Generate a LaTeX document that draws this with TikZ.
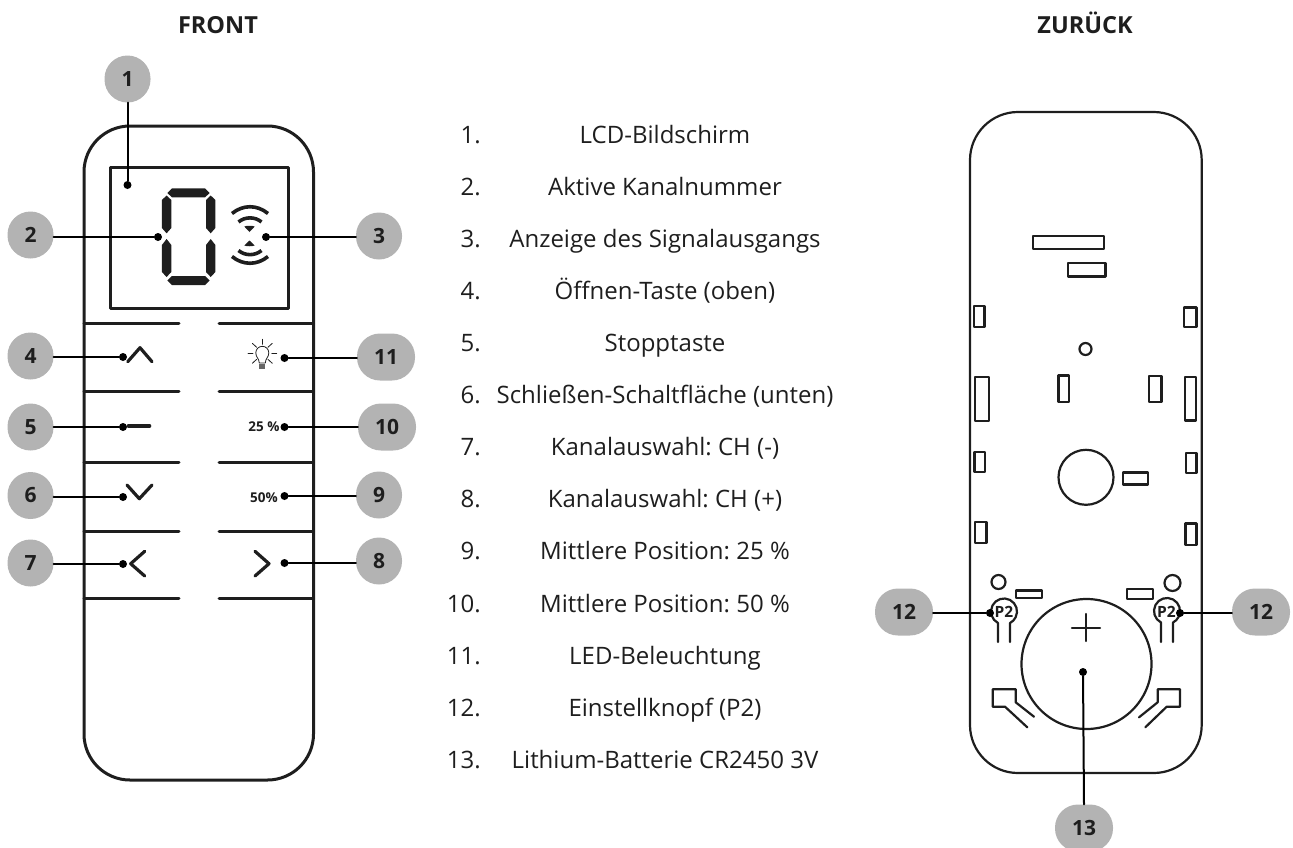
\documentclass[tikz,border=0pt]{standalone}
\usepackage{fontspec}
\setmainfont{Open Sans}
\frenchspacing
\definecolor{bubblegray}{RGB}{179,179,179}
\definecolor{inkgray}{RGB}{30,30,30}
\tikzset{
  bubble/.style={rectangle,fill=bubblegray,rounded corners=23pt,minimum width=46pt,minimum height=47pt,inner sep=0pt,font=\fontsize{21}{23}\bfseries,text=inkgray},
  bubblewide/.style={bubble,minimum width=58pt},
  dot/.style={circle,fill=black,inner sep=0pt,minimum size=8pt},
  lead/.style={line width=2pt,black},
  front/.style={line width=3pt,inkgray},
  back/.style={line width=2.2pt,inkgray},
  icon/.style={line width=3.2pt,inkgray},
  heading/.style={font=\fontsize{23.5}{26}\bfseries,text=inkgray,anchor=base},
  entry/.style={font=\fontsize{24}{26}\selectfont,text=inkgray,anchor=base,inner sep=0pt},
  small/.style={font=\fontsize{13.5}{15}\bfseries,text=inkgray,inner sep=0pt},
  ptwo/.style={small,font=\fontsize{15.5}{17}\bfseries}
}
\begin{document}
\begin{tikzpicture}[x=1pt,y=-1pt,line join=round,line cap=round]
\useasboundingbox (0,0) rectangle (1293,847);
\node[heading] (headfront) at (218,33) {FRONT};
\node[heading] (headback) at (1085,33) {ZURÜCK};
\draw[front,rounded corners=46pt] (84,126) rectangle (313.5,780);
\draw[front] (110,167) rectangle (288,308);
\foreach \y in {323,391,462,531,598.5}{
  \draw[front] (84,\y)--(179,\y);
  \draw[front] (219,\y)--(313.5,\y);
}
\fill[inkgray] (167.3,193)--(172,188.3)--(205,188.3)--(209.7,193)--(205,197.3)--(172,197.3)--cycle;
\fill[inkgray] (167.3,280.5)--(172,276)--(205,276)--(209.7,280.5)--(205,285)--(172,285)--cycle;
\foreach \x in {166.6,210.7}{
  \fill[inkgray] (\x,195.5)--(\x-4.7,200)--(\x-4.7,228)--(\x,233.3)--(\x+4.7,228)--(\x+4.7,200)--cycle;
  \fill[inkgray] (\x,239)--(\x-4.7,245)--(\x-4.7,272)--(\x,277)--(\x+4.7,272)--(\x+4.7,245)--cycle;
}
\draw[line width=3.6pt,inkgray,line cap=butt] (232,213.5) .. controls (243,204.5) and (257,204.5) .. (268,213.5);
\draw[line width=3.6pt,inkgray,line cap=butt] (238.5,222) .. controls (245,216.5) and (255,216.5) .. (261.5,222);
\fill[inkgray] (244.3,226.5) .. controls (247,225.5) and (252,225.5) .. (254.7,226.5)--(249.5,232)--cycle;
\draw[line width=3.6pt,inkgray,line cap=butt] (232,256.5) .. controls (243,265.5) and (257,265.5) .. (268,256.5);
\draw[line width=3.6pt,inkgray,line cap=butt] (238.5,250.5) .. controls (245,256) and (255,256) .. (261.5,250.5);
\fill[inkgray] (244.3,245.5) .. controls (247,246.5) and (252,246.5) .. (254.7,245.5)--(249.5,240.5)--cycle;
\draw[icon] (127.7,361.7)--(140,347.7)--(152,361.7);
\draw[icon,line width=3.6pt] (128.5,426)--(149.5,426);
\draw[icon] (127,485)--(139.3,498.7)--(152,485);
\draw[icon] (144.7,551.3)--(130.7,563.7)--(144.7,576);
\draw[icon] (255,551.3)--(269,563.7)--(255,576);
\draw[line width=0.8pt,inkgray] (259.3,363) .. controls (259,358) and (255.8,357.5) .. (255.8,352.8) arc[start angle=180,end angle=360,radius=6.5] .. controls (268.8,357.5) and (265.5,358) .. (265.3,363)--cycle;
\fill[gray!80!black] (259.3,363.5) rectangle (265.3,369);
\foreach \xa/\ya/\xb/\yb in {262.3/339.3/262.3/344.3,248/353.3/253/353.3,271.7/353.3/276.7/353.3,252.3/343.3/256.7/347.3,272.3/343.3/267.9/347.3,252.3/363.3/256.7/359.3,272.3/363.3/267.9/359.3}{
  \draw[line width=0.8pt,inkgray] (\xa,\ya)--(\xb,\yb);
}
\node[small] (labelfive) at (264,426.7) {25 \%};
\node[small] (labelsix) at (264,497.3) {50\%};
\foreach \nr/\txt in {1/LCD-Bildschirm,2/Aktive Kanalnummer,3/Anzeige des Signalausgangs,4/Öffnen-Taste (oben),5/Stopptaste,6/Schließen-Schaltfläche (unten),7/Kanalauswahl: CH (-),8/Kanalauswahl: CH (+),9/Mittlere Position: 25 \%,10/Mittlere Position: 50 \%,11/LED-Beleuchtung,12/Einstellknopf (P2),13/Lithium-Batterie CR2450 3V}{
  \node[entry,anchor=base east] (nr\nr) at (481,{91+52.1*\nr}) {\nr.};
  \node[entry] (txt\nr) at (665,{91+52.1*\nr}) {\txt};
}
\draw[back,rounded corners=48pt] (970,112) rectangle (1201.7,773);
\foreach \xa/\ya/\xb/\yb in {1033.3/235.7/1104/248.7,1068/263/1105.5/276.5,974/306/984.5/327,1184/307.5/1196.5/327,975/377/989/421,1058.5/375.5/1069/402,1149/376/1161.5/402,1185/377/1196/420.5,974.5/452/985/472,1186/453/1196.5/473,1123/472.5/1148/484.5,975/522/986.5/543,1185.5/523.5/1196.5/545,1016/590.5/1042/598,1127/589/1153/599}{
  \draw[back] (\xa,\ya) rectangle (\xb,\yb);
}
\draw[back] (1085.5,349) circle[radius=6];
\draw[back] (1086,477.3) circle[radius=27.5];
\draw[back] (998.5,582) circle[radius=7];
\draw[back] (1172.5,583) circle[radius=8];
\draw[back] (1086.5,664) circle[radius=65];
\draw[back] (1072,628)--(1100,628);
\draw[back] (1086,614)--(1086,641);
\draw[back] (998,642)--(998,623) arc[start angle=117.5,end angle=422.5,radius=13]--(1010,642);
\draw[back] (1161,642)--(1161,622.5) arc[start angle=117.5,end angle=422.5,radius=13]--(1173,642);
\draw[back] (1034,716.7)--(1015.7,702.3)--(1015.7,689.3)--(992.7,689.3)--(992.7,706.7)--(1005,706.7)--(1027.3,727.3);
\draw[back] (1139,717.3)--(1157.7,702.3)--(1157.7,689.3)--(1180,689.3)--(1180,706.7)--(1166.7,706.7)--(1145.3,727.3);
\node[ptwo] (ptwoleft) at (1004,612) {P2};
\node[ptwo] (ptworight) at (1166.5,612) {P2};
\node[bubble] (b1) at (127.5,79) {1};
\node[bubble] (b2) at (30.5,235) {2};
\node[bubble] (b3) at (379,236) {3};
\node[bubble] (b4) at (30.5,356) {4};
\node[bubble] (b5) at (30.5,427) {5};
\node[bubble] (b6) at (30.5,495.5) {6};
\node[bubble] (b7) at (30.5,563) {7};
\node[bubble] (b8) at (379,561) {8};
\node[bubble] (b9) at (379,495) {9};
\node[bubblewide] (b10) at (387,427) {10};
\node[bubblewide] (b11) at (386,357) {11};
\node[bubblewide] (b12l) at (904,612) {12};
\node[bubblewide] (b12r) at (1261,612) {12};
\node[bubblewide] (b13) at (1084,828) {13};
\foreach \d/\x/\y in {d1/127.5/185,d2/158/237,d3/266/237,d4/123/357,d5/123/427,d6/123/497,d7/123/564,d8/284.5/563,d9/284.5/496,d10/284.5/427,d11/284.5/358,d12l/990/613,d12r/1180/613,d13/1083/672}{
  \node[dot] (\d) at (\x,\y) {};
}
\draw[lead] (b1.south)--(d1);
\draw[lead] (b13.north)--(d13);
\foreach \b/\d in {b2/d2,b4/d4,b5/d5,b6/d6,b7/d7,b12l/d12l}{
  \draw[lead] (\d -| \b.east)--(\d);
}
\foreach \b/\d in {b3/d3,b8/d8,b9/d9,b10/d10,b11/d11,b12r/d12r}{
  \draw[lead] (\d -| \b.west)--(\d);
}
\end{tikzpicture}
\end{document}
